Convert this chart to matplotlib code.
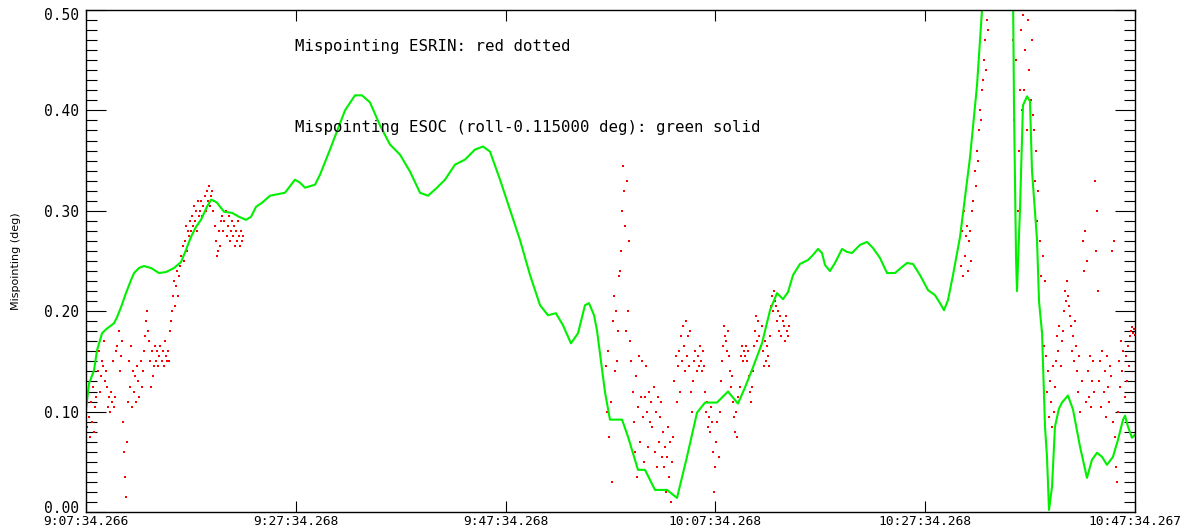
import matplotlib
matplotlib.use('Agg')
import matplotlib.pyplot as plt
import matplotlib.transforms as mtransforms
from matplotlib.ticker import MultipleLocator
import numpy as np

plt.rcParams.update({
    'font.family': 'DejaVu Sans Mono',
    'font.size': 9,
    'axes.linewidth': 1.0,
})

# x axis is minutes after 9:07:34.266
tick_minutes = [0, 20, 40, 60, 80, 100]
tick_labels = ['9:07:34.266', '9:27:34.268', '9:47:34.268',
               '10:07:34.268', '10:27:34.268', '10:47:34.267']
y_ticks = [0.0, 0.1, 0.2, 0.3, 0.4, 0.5]

# ESOC mispointing (green solid)
green_min = [0.00, 0.29, 0.76, 1.05, 1.53, 1.91, 2.67, 2.96, 3.34, 3.81,
             4.29, 4.58, 5.05, 5.53, 6.20, 6.96, 7.63, 8.39, 9.06, 9.53,
             10.01, 10.49, 10.96, 11.53, 11.92, 12.20, 12.49, 13.16, 13.92, 14.59,
             15.25, 15.73, 16.21, 16.78, 17.54, 18.97, 19.92, 20.40, 20.88, 21.83,
             22.31, 23.26, 24.69, 25.64, 26.31, 27.07, 28.03, 28.98, 29.93, 30.89,
             31.84, 32.60, 33.46, 34.22, 35.18, 36.13, 37.08, 37.85, 38.51, 39.47,
             40.42, 41.37, 42.33, 43.28, 44.04, 44.80, 45.47, 46.23, 46.90, 47.57,
             47.95, 48.43, 48.71, 49.48, 49.95, 51.10, 51.67, 52.62, 53.29, 54.24,
             55.39, 56.34, 57.29, 58.25, 59.01, 60.15, 61.20, 62.15, 62.82, 63.58,
             64.44, 65.21, 65.87, 66.44, 66.92, 67.40, 68.06, 68.83, 69.30, 69.78,
             70.16, 70.45, 70.92, 71.40, 72.07, 72.55, 73.02, 73.78, 74.45, 75.02,
             75.69, 76.36, 77.12, 77.79, 78.27, 78.84, 79.50, 80.27, 80.93, 81.41,
             81.79, 82.17, 82.65, 83.32, 84.27, 84.94, 85.41, 86.18, 86.94, 87.70,
             88.18, 88.37, 88.47, 88.66, 88.75, 89.04, 89.32, 89.71, 89.99, 90.18,
             90.66, 90.85, 91.14, 91.42, 91.61, 91.80, 92.09, 92.37, 92.75, 93.04,
             93.61, 94.09, 94.76, 95.42, 95.90, 96.38, 96.85, 97.33, 97.90, 98.38,
             98.86, 99.05, 99.33, 99.71, 100.00]
green_val = [0.102, 0.128, 0.141, 0.161, 0.178, 0.182, 0.188, 0.194, 0.204, 0.218,
             0.231, 0.238, 0.243, 0.245, 0.243, 0.238, 0.239, 0.243, 0.249, 0.261,
             0.274, 0.284, 0.291, 0.304, 0.311, 0.310, 0.308, 0.299, 0.298, 0.294,
             0.291, 0.294, 0.304, 0.308, 0.315, 0.318, 0.331, 0.328, 0.323, 0.326,
             0.336, 0.361, 0.400, 0.415, 0.415, 0.408, 0.385, 0.366, 0.356, 0.339,
             0.318, 0.315, 0.323, 0.331, 0.346, 0.351, 0.361, 0.364, 0.359, 0.331,
             0.301, 0.271, 0.236, 0.206, 0.196, 0.198, 0.186, 0.168, 0.178, 0.206,
             0.208, 0.196, 0.181, 0.119, 0.092, 0.092, 0.075, 0.042, 0.042, 0.022,
             0.022, 0.014, 0.055, 0.099, 0.109, 0.109, 0.120, 0.108, 0.124, 0.144,
             0.168, 0.201, 0.218, 0.212, 0.219, 0.236, 0.247, 0.251, 0.256, 0.262,
             0.258, 0.246, 0.240, 0.248, 0.262, 0.259, 0.258, 0.266, 0.269, 0.263,
             0.253, 0.238, 0.238, 0.244, 0.248, 0.247, 0.236, 0.221, 0.216, 0.208,
             0.201, 0.211, 0.236, 0.274, 0.353, 0.425, 0.499, 0.580, 0.630, 0.620,
             0.570, 0.520, 0.400, 0.253, 0.220, 0.303, 0.405, 0.414, 0.409, 0.340,
             0.271, 0.210, 0.178, 0.085, 0.055, 0.002, 0.025, 0.085, 0.103, 0.109,
             0.116, 0.102, 0.065, 0.034, 0.052, 0.059, 0.055, 0.047, 0.055, 0.072,
             0.092, 0.096, 0.085, 0.074, 0.077]

# ESRIN mispointing (red dots), three stretches sampled every 0.1 min
red_step = 0.1
red1_start = 0.0
red1 = [0.100, 0.085, 0.120, 0.095, 0.075, 0.110, 0.090, 0.125, 0.080, 0.105,
        0.115, 0.140, 0.160, 0.120, 0.135, 0.150, 0.145, 0.170, 0.130, 0.140,
        0.125, 0.105, 0.115, 0.100, 0.120, 0.110, 0.150, 0.105, 0.115, 0.160,
        0.165, 0.180, 0.140, 0.155, 0.170, 0.090, 0.060, 0.035, 0.015, 0.070,
        0.110, 0.150, 0.125, 0.165, 0.105, 0.140, 0.120, 0.135, 0.110, 0.145,
        0.130, 0.115, 0.150, 0.125, 0.140, 0.160, 0.175, 0.190, 0.200, 0.180,
        0.170, 0.150, 0.125, 0.160, 0.135, 0.145, 0.165, 0.150, 0.160, 0.145,
        0.155, 0.165, 0.150, 0.160, 0.145, 0.170, 0.155, 0.150, 0.160, 0.150,
        0.180, 0.190, 0.200, 0.215, 0.230, 0.205, 0.225, 0.240, 0.215, 0.235,
        0.245, 0.255, 0.265, 0.250, 0.270, 0.285, 0.260, 0.280, 0.275, 0.290,
        0.280, 0.295, 0.285, 0.305, 0.290, 0.300, 0.280, 0.310, 0.295, 0.300,
        0.310, 0.295, 0.305, 0.315, 0.300, 0.320, 0.310, 0.325, 0.305, 0.315,
        0.320, 0.300, 0.310, 0.285, 0.270, 0.255, 0.260, 0.280, 0.265, 0.290,
        0.295, 0.280, 0.290, 0.300, 0.275, 0.285, 0.295, 0.270, 0.280, 0.290,
        0.275, 0.285, 0.265, 0.280, 0.270, 0.290, 0.275, 0.265, 0.280, 0.270,
        0.275]
red2_start = 49.5
red2 = [0.120, 0.145, 0.100, 0.160, 0.075,
        0.110, 0.030, 0.190, 0.215, 0.140, 0.200, 0.150, 0.180, 0.235, 0.240,
        0.260, 0.300, 0.345, 0.320, 0.285, 0.180, 0.330, 0.200, 0.270, 0.170,
        0.150, 0.120, 0.090, 0.060, 0.135, 0.035, 0.105, 0.155, 0.070, 0.115,
        0.150, 0.095, 0.050, 0.115, 0.145, 0.100, 0.065, 0.120, 0.090, 0.110,
        0.085, 0.125, 0.060, 0.100, 0.045, 0.115, 0.070, 0.095, 0.110, 0.055,
        0.080, 0.045, 0.065, 0.020, 0.055, 0.085, 0.035, 0.070, 0.010, 0.050,
        0.075, 0.130, 0.155, 0.110, 0.145, 0.160, 0.120, 0.175, 0.150, 0.185,
        0.165, 0.140, 0.190, 0.155, 0.175, 0.145, 0.180, 0.120, 0.100, 0.130,
        0.150, 0.160, 0.140, 0.155, 0.145, 0.165, 0.150, 0.140, 0.160, 0.145,
        0.120, 0.100, 0.110, 0.085, 0.095, 0.080, 0.105, 0.090, 0.060, 0.020,
        0.045, 0.070, 0.090, 0.055, 0.100, 0.130, 0.150, 0.165, 0.185, 0.175,
        0.170, 0.160, 0.180, 0.155, 0.140, 0.125, 0.135, 0.110, 0.095, 0.080,
        0.100, 0.075, 0.115, 0.125, 0.155, 0.165, 0.150, 0.160, 0.155, 0.165,
        0.150, 0.160, 0.135, 0.120, 0.110, 0.125, 0.140, 0.165, 0.180, 0.195,
        0.170, 0.190, 0.175, 0.165, 0.185, 0.160, 0.145, 0.170, 0.150, 0.165,
        0.155, 0.145, 0.175, 0.205, 0.215, 0.200, 0.220, 0.210, 0.205, 0.190,
        0.200, 0.180, 0.195, 0.175, 0.190, 0.185, 0.170, 0.195, 0.180, 0.175,
        0.185]
red3_start = 83.4
red3 = [0.245, 0.280, 0.235, 0.300, 0.255, 0.275,
        0.285, 0.240, 0.270, 0.280, 0.250, 0.300,
        0.310, 0.340, 0.325, 0.360, 0.350,
        0.380, 0.400, 0.390, 0.420, 0.430,
        0.450, 0.470, 0.440, 0.490, 0.480,
        0.53, 0.56, 0.60, 0.58, 0.62, 0.65, 0.63, 0.66, 0.64, 0.67,
        0.65, 0.62, 0.64, 0.60, 0.61, 0.58, 0.57, 0.55, 0.56, 0.53,
        0.54, 0.52, 0.51,
        0.470, 0.390, 0.330, 0.450, 0.300, 0.360, 0.420,
        0.480, 0.400, 0.495, 0.420, 0.460, 0.500, 0.380,
        0.490, 0.440, 0.500, 0.410, 0.470, 0.395,
        0.380, 0.330, 0.360, 0.290, 0.320, 0.270,
        0.235, 0.180, 0.255, 0.165, 0.230,
        0.155, 0.120, 0.140, 0.095, 0.130, 0.110, 0.085, 0.145, 0.100, 0.125,
        0.150, 0.175, 0.160, 0.185, 0.145, 0.170, 0.180,
        0.200, 0.220, 0.210, 0.230, 0.215, 0.205, 0.195,
        0.185, 0.160, 0.175, 0.150, 0.190, 0.165,
        0.140, 0.120, 0.155, 0.100, 0.130,
        0.270, 0.240, 0.280, 0.110, 0.250,
        0.140, 0.115, 0.155, 0.105, 0.130, 0.150, 0.120,
        0.330, 0.260, 0.300, 0.220,
        0.130, 0.150, 0.105, 0.160, 0.120, 0.140, 0.095, 0.155, 0.125, 0.110,
        0.145, 0.135, 0.260,
        0.090, 0.270, 0.075, 0.045, 0.030,
        0.100, 0.150, 0.125, 0.170, 0.140, 0.160, 0.115, 0.155, 0.130, 0.165,
        0.145,
        0.175, 0.180, 0.184, 0.178, 0.182, 0.176]

fig = plt.figure(figsize=(11.94, 5.28), dpi=100)
ax = fig.add_axes([86 / 1194, 16 / 528, 1049 / 1194, 502 / 528])

for start, vals in [(red1_start, red1), (red2_start, red2), (red3_start, red3)]:
    t = start + red_step * np.arange(len(vals))
    ax.plot(t, vals, ls='none', marker='s', ms=1.5, mew=0, color='red')

ax.plot(green_min, green_val, color='#00f000', lw=1.5)

ax.set_xlim(0, 100)
ax.set_ylim(0, 0.5)
ax.set_xticks(tick_minutes, tick_labels)
ax.set_yticks(y_ticks, [f'{v:.2f}' for v in y_ticks])
ax.yaxis.set_minor_locator(MultipleLocator(0.01))
ax.tick_params(axis='y', which='major', direction='in', length=14.4, width=0.8,
               left=True, right=True, pad=5, labelsize=10.5)
ax.tick_params(axis='y', which='minor', direction='in', length=7.9, width=0.8,
               left=True, right=True)
ax.tick_params(axis='x', which='major', direction='in', length=7.9, width=0.8,
               top=True, bottom=True, pad=2, labelsize=9.3)

# IDL pulls the end labels slightly inside the axis range
ylabels = ax.get_yticklabels()
ylabels[0].set_transform(ylabels[0].get_transform() +
                         mtransforms.ScaledTranslation(0, 5 / 100, fig.dpi_scale_trans))
ylabels[-1].set_transform(ylabels[-1].get_transform() +
                          mtransforms.ScaledTranslation(0, -4 / 100, fig.dpi_scale_trans))

ax.set_ylabel('Mispointing (deg)', family='DejaVu Sans', fontsize=8)
ax.yaxis.set_label_coords(-0.062, 0.5)

ax.text(0.199, 0.928, 'Mispointing ESRIN: red dotted', transform=ax.transAxes,
        fontsize=11.3, va='center')
ax.text(0.199, 0.765, 'Mispointing ESOC (roll-0.115000 deg): green solid',
        transform=ax.transAxes, fontsize=11.3, va='center')

fig.savefig('out.png', dpi=100)
